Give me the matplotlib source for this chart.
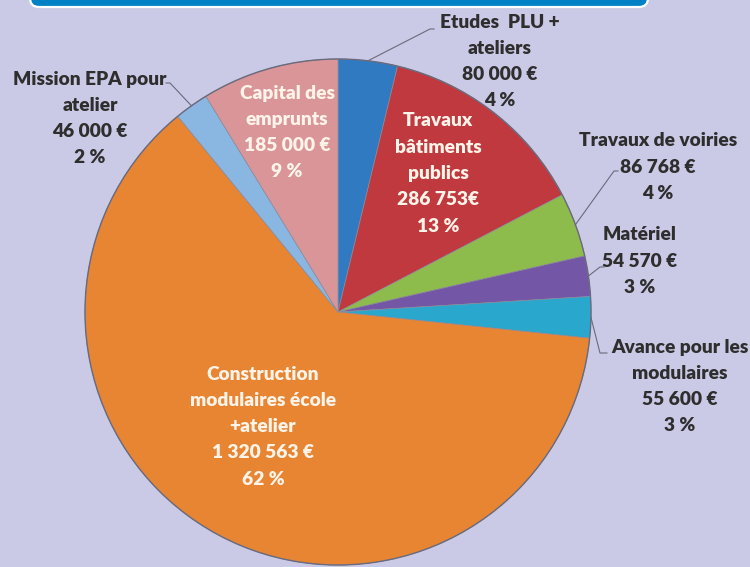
import matplotlib
matplotlib.use("Agg")
import matplotlib.pyplot as plt
from matplotlib.patches import FancyBboxPatch, Circle
import numpy as np

W, H = 750, 567

categories = ["Etudes  PLU +\nateliers", "Travaux\nbâtiments\npublics", "Travaux de voiries",
              "Matériel", "Avance pour les\nmodulaires", "Construction\nmodulaires école\n+atelier",
              "Mission EPA pour\natelier", "Capital des\nemprunts"]
values = [80000, 286753, 86768, 54570, 55600, 1320563, 46000, 185000]
amount_labels = ["80 000 €", "286 753€", "86 768 €", "54 570 €", "55 600 €", "1 320 563 €", "46 000 €", "185 000 €"]
pct_labels = ["4 %", "13 %", "4 %", "3 %", "3 %", "62 %", "2 %", "9 %"]
colors = ["#2f7ac0", "#c0393e", "#8dbb4c", "#7456a6", "#2aa7cc", "#e88533", "#8ab6e2", "#d99598"]

BG = "#cbcae6"
FONT = ["Lato", "DejaVu Sans"]

fig = plt.figure(figsize=(7.5, 5.67), dpi=100, facecolor=BG)
ax = fig.add_axes([0, 0, 1, 1])
ax.set_xlim(0, W)
ax.set_ylim(0, H)
ax.set_aspect("equal")
ax.axis("off")
ax.set_facecolor(BG)

def Y(p):
    return H - p

cx, cy, R = 338, Y(312), 253
wedges, _ = ax.pie(values, colors=colors, startangle=90, counterclock=False,
                   center=(cx, cy), radius=R, frame=True,
                   wedgeprops=dict(edgecolor="#8a8a9a", linewidth=0.5))
ax.set_xlim(0, W)
ax.set_ylim(0, H)
ax.axis("off")
ax.add_patch(Circle((cx, cy), R, fill=False, edgecolor="#6a6a7c", linewidth=1.0))

# banner at top
ax.add_patch(FancyBboxPatch((30, Y(7)), 618, 30, boxstyle="round,pad=0,rounding_size=9",
                            facecolor="#0081c6", edgecolor="white", linewidth=1.6, clip_on=True))

# labels: (index, x_center, y_top_pixel, inside)
placements = {
    0: (500, 22, False),
    1: (438, 121, True),
    2: (658, 141, False),
    3: (640, 235, False),
    4: (680, 347, False),
    5: (263, 374, True),
    6: (90, 79, False),
    7: (287, 93, True),
}
LS = 26.3
for i, (x, y0, inside) in placements.items():
    lines = categories[i].split("\n") + [amount_labels[i], pct_labels[i]]
    col = "#fff4ea" if inside else "#2e2e2e"
    for k, ln in enumerate(lines):
        ax.text(x, Y(y0 + k * LS), ln, ha="center", va="center", fontsize=13.8,
                fontweight="heavy", color=col, family=FONT)

# leader lines (pixel coordinates of label anchor -> point on wedge edge)
def edge_point(i, frac=0.5):
    w = wedges[i]
    ang = np.deg2rad(w.theta1 + frac * (w.theta2 - w.theta1))
    return cx + R * np.cos(ang), cy + R * np.sin(ang)

leaders = {
    0: [(434, 29), (430, 29)],
    6: [(166, 83), (170, 83)],
    2: [(618, 171), (614, 171)],
    3: [(604, 267), (600, 267)],
    4: [(607, 353), (600, 353)],
}
for i, pts in leaders.items():
    ex, ey = edge_point(i)
    xs = [p[0] for p in pts] + [ex]
    ys = [Y(p[1]) for p in pts] + [ey]
    ax.plot(xs, ys, color="#6a6a7c", linewidth=0.8)

fig.savefig("out.png", dpi=100, facecolor=BG)
